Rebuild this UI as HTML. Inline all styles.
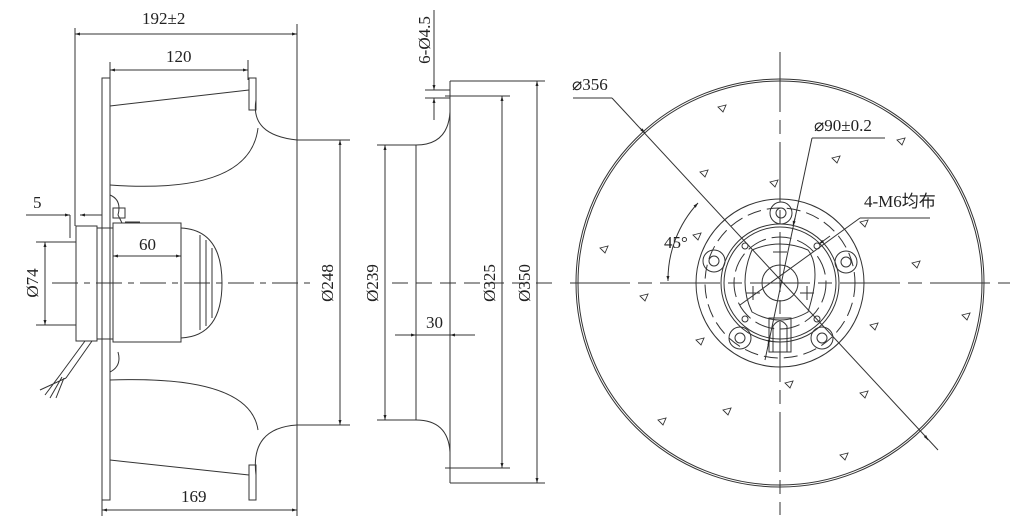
<!DOCTYPE html>
<html><head><style>
html,body{margin:0;padding:0;background:#fff;width:1024px;height:524px;overflow:hidden}
text{font-family:"Liberation Serif","Noto Sans CJK SC",serif;fill:#222}
</style></head><body>
<svg width="1024" height="524" viewBox="0 0 1024 524" xmlns="http://www.w3.org/2000/svg">
<defs>
<marker id="a" viewBox="0 0 10 10" refX="10" refY="5" markerWidth="8" markerHeight="5" orient="auto-start-reverse"><path d="M0,2 L10,5 L0,8z" fill="#222"/></marker>
</defs>
<g stroke="#333" stroke-width="1" fill="none">
<!-- LEFT VIEW -->
<line x1="75" y1="28" x2="75" y2="226"/><line x1="297" y1="24" x2="297" y2="516"/>
<line x1="75" y1="34" x2="297" y2="34" marker-start="url(#a)" marker-end="url(#a)"/>
<line x1="110" y1="62" x2="110" y2="80"/><line x1="248" y1="60" x2="248" y2="80"/>
<line x1="110" y1="70" x2="248" y2="70" marker-start="url(#a)" marker-end="url(#a)"/>
<line x1="102" y1="500" x2="102" y2="516"/>
<line x1="102" y1="510" x2="297" y2="510" marker-start="url(#a)" marker-end="url(#a)"/>
<rect x="102" y="78" width="8" height="422"/>
<rect x="249" y="78" width="7" height="32"/><rect x="249" y="465" width="7" height="35"/>
<path d="M110,106 L249,90"/><path d="M110,460 L249,475"/>
<path d="M256,100 Q250,135 297,140"/><path d="M256,475 Q250,428 297,425"/>
<path d="M258,128 Q250,195 110,185"/><path d="M258,430 Q250,375 110,380"/>
<line x1="297" y1="140" x2="350" y2="140"/><line x1="297" y1="425" x2="350" y2="425"/>
<line x1="340" y1="140" x2="340" y2="425" marker-start="url(#a)" marker-end="url(#a)"/>
<rect x="76" y="226" width="21" height="115"/>
<rect x="97" y="228" width="16" height="111"/>
<rect x="113" y="223" width="68" height="119"/>
<path d="M181,228 Q222,230 222,283 Q222,336 181,338"/>
<path d="M200,235 L200,330 M206,240 L206,326 M212,248 L212,318"/>
<path d="M110,195 Q122,200 118,215 L122,223 M110,372 Q122,366 118,352"/>
<rect x="113" y="208" width="12" height="10"/>
<line x1="125" y1="222" x2="140" y2="222"/>
<line x1="113" y1="256" x2="181" y2="256" marker-start="url(#a)" marker-end="url(#a)"/>
<line x1="70" y1="215" x2="70" y2="238"/>
<line x1="26" y1="215" x2="70" y2="215" marker-end="url(#a)"/>
<line x1="102" y1="215" x2="80" y2="215" marker-end="url(#a)" />
<line x1="36" y1="242" x2="76" y2="242"/><line x1="36" y1="325" x2="76" y2="325"/>
<line x1="45" y1="242" x2="45" y2="325" marker-start="url(#a)" marker-end="url(#a)"/>
<path d="M85,341 L60,375 M92,341 L66,378 M60,375 L45,395 M62,377 L50,398 M64,378 L56,398 M66,378 L40,390"/>
<line x1="52" y1="283" x2="310" y2="283" stroke-dasharray="26,6,6,6"/>
<!-- MIDDLE VIEW -->
<line x1="450" y1="81" x2="450" y2="483"/>
<line x1="450" y1="81" x2="545" y2="81"/><line x1="450" y1="483" x2="545" y2="483"/>
<line x1="537" y1="81" x2="537" y2="483" marker-start="url(#a)" marker-end="url(#a)"/>
<line x1="445" y1="96" x2="510" y2="96"/><line x1="445" y1="468" x2="510" y2="468"/>
<line x1="502" y1="96" x2="502" y2="468" marker-start="url(#a)" marker-end="url(#a)"/>
<line x1="416" y1="145" x2="416" y2="420"/>
<path d="M416,145 Q448,145 450,112"/><path d="M416,420 Q448,420 450,452"/>
<line x1="377" y1="145" x2="416" y2="145"/><line x1="377" y1="420" x2="416" y2="420"/>
<line x1="385" y1="145" x2="385" y2="420" marker-start="url(#a)" marker-end="url(#a)"/>
<line x1="395" y1="335" x2="416" y2="335" marker-end="url(#a)"/>
<line x1="475" y1="335" x2="450" y2="335" marker-end="url(#a)"/>
<line x1="416" y1="335" x2="450" y2="335"/>
<line x1="434" y1="10" x2="434" y2="90" marker-end="url(#a)"/>
<line x1="434" y1="120" x2="434" y2="98" marker-end="url(#a)"/>
<line x1="425" y1="90" x2="450" y2="90"/><line x1="425" y1="98" x2="450" y2="98"/>
<line x1="392" y1="283" x2="560" y2="283" stroke-dasharray="16,8"/>
<!-- RIGHT VIEW -->
<circle cx="780" cy="283" r="204"/><circle cx="780" cy="283" r="202"/>
<line x1="570" y1="283" x2="1010" y2="283" stroke-dasharray="60,8,14,8"/>
<line x1="780" y1="52" x2="780" y2="515" stroke-dasharray="60,8,14,8"/>
<circle cx="780" cy="283" r="84"/>
<circle cx="780" cy="283" r="75" stroke-dasharray="14,6"/>
<circle cx="780" cy="283" r="59"/><circle cx="780" cy="283" r="56"/>
<circle cx="780" cy="283" r="46" stroke-dasharray="20,6"/>
<circle cx="780" cy="283" r="18"/>
<path d="M752,250 Q780,238 808,250 Q822,268 808,312 Q780,328 752,312 Q738,283 752,250"/>
<g>
<circle cx="781" cy="213" r="11"/><circle cx="781" cy="213" r="5"/>
<circle cx="714" cy="261" r="11"/><circle cx="714" cy="261" r="5"/>
<circle cx="846" cy="262" r="11"/><circle cx="846" cy="262" r="5"/>
<circle cx="740" cy="338" r="11"/><circle cx="740" cy="338" r="5"/>
<circle cx="822" cy="338" r="11"/><circle cx="822" cy="338" r="5"/>
<circle cx="745" cy="246" r="3"/><circle cx="817" cy="246" r="3"/>
<circle cx="745" cy="319" r="3"/><circle cx="817" cy="319" r="3"/>
</g>
<rect x="769" y="318" width="22" height="34"/>
<path d="M773,352 L773,326 Q780,316 787,326 L787,352"/>
<path d="M746,293 h14 M753,286 v14 M800,293 h14 M807,286 v14 M773,252 h14"/>
<line x1="573" y1="98" x2="612" y2="98"/>
<line x1="612" y1="98" x2="938" y2="450"/>
<line x1="640" y1="128" x2="645" y2="133" marker-end="url(#a)"/>
<line x1="925" y1="436" x2="928" y2="440" marker-end="url(#a)"/>
<line x1="812" y1="138" x2="885" y2="138"/>
<line x1="812" y1="138" x2="765" y2="360"/>
<line x1="793" y1="226" x2="795" y2="218" marker-start="url(#a)"/>
<line x1="770" y1="337" x2="768" y2="345" marker-end="url(#a)"/>
<line x1="860" y1="218" x2="930" y2="218"/>
<line x1="860" y1="218" x2="740" y2="305"/>
<line x1="830" y1="236" x2="819" y2="244" marker-end="url(#a)"/>
<path d="M668,281 A113,113 0 0 1 698,203" marker-start="url(#a)" marker-end="url(#a)"/>
<g stroke-width="0.9">
<path d="M718,107 l8,-2 l-3,7z"/><path d="M897,140 l8,-2 l-3,7z"/><path d="M832,158 l8,-2 l-3,7z"/>
<path d="M700,172 l8,-2 l-3,7z"/><path d="M770,182 l8,-2 l-3,7z"/><path d="M600,248 l8,-2 l-3,7z"/>
<path d="M693,235 l8,-2 l-3,7z"/><path d="M860,222 l8,-2 l-3,7z"/><path d="M912,263 l8,-2 l-3,7z"/>
<path d="M640,296 l8,-2 l-3,7z"/><path d="M962,315 l8,-2 l-3,7z"/><path d="M870,325 l8,-2 l-3,7z"/>
<path d="M696,340 l8,-2 l-3,7z"/><path d="M785,383 l8,-2 l-3,7z"/><path d="M860,393 l8,-2 l-3,7z"/>
<path d="M723,410 l8,-2 l-3,7z"/><path d="M658,420 l8,-2 l-3,7z"/><path d="M840,455 l8,-2 l-3,7z"/>
</g>
</g>
<g font-size="17">
<text x="142" y="24">192±2</text>
<text x="166" y="62">120</text>
<text x="181" y="502">169</text>
<text x="33" y="208">5</text>
<text x="139" y="250">60</text>
<text x="426" y="328">30</text>
<text x="572" y="90">⌀356</text>
<text x="814" y="131">⌀90±0.2</text>
<text x="864" y="207">4-M6均布</text>
<text x="664" y="248">45°</text>
<text transform="translate(38,283) rotate(-90)" text-anchor="middle">Ø74</text>
<text transform="translate(333,283) rotate(-90)" text-anchor="middle">Ø248</text>
<text transform="translate(378,283) rotate(-90)" text-anchor="middle">Ø239</text>
<text transform="translate(495,283) rotate(-90)" text-anchor="middle">Ø325</text>
<text transform="translate(530,283) rotate(-90)" text-anchor="middle">Ø350</text>
<text transform="translate(430,40) rotate(-90)" text-anchor="middle">6-Ø4.5</text>
</g>
</svg>
</body></html>
